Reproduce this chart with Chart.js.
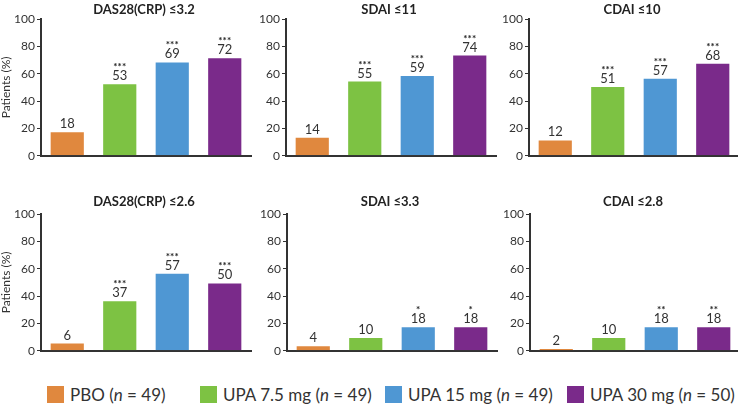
<!DOCTYPE html>
<html>
<head>
<meta charset="utf-8">
<script src="https://cdn.jsdelivr.net/npm/chart.js@4.4.1/dist/chart.umd.min.js"></script>
<style>
  body { margin: 0; width: 738px; height: 406px; overflow: hidden; background: #fff; position: relative; font-family: Lato, sans-serif; }
  canvas { position: absolute; }
  .leg { position: absolute; top: 385px; height: 18px; display: flex; align-items: center; font-size: 17px; color: #333; white-space: nowrap; }
  .leg span.box { display: inline-block; width: 17px; height: 17px; margin-right: 6px; }
</style>
</head>
<body>
<script>
// groups (legend) and colours
const groupNames = ['PBO', 'UPA 7.5 mg', 'UPA 15 mg', 'UPA 30 mg'];
const groupN = [49, 49, 49, 50];
const groupColors = ['#E0883E', '#7DC243', '#4F97D3', '#7A2A8A'];

// panel titles
const titles = ['DAS28(CRP) \u22643.2', 'SDAI \u226411', 'CDAI \u226410',
                'DAS28(CRP) \u22642.6', 'SDAI \u22643.3', 'CDAI \u22642.8'];

// patients (%) per group
const das28_32 = [18, 53, 69, 72];
const sdai_11  = [14, 55, 59, 74];
const cdai_10  = [12, 51, 57, 68];
const das28_26 = [6, 37, 57, 50];
const sdai_33  = [4, 10, 18, 18];
const cdai_28  = [2, 10, 18, 18];
const values = [das28_32, sdai_11, cdai_10, das28_26, sdai_33, cdai_28];

// significance marks
const starsTop = [['', '***', '***', '***'], ['', '***', '***', '***'], ['', '***', '***', '***']];
const starsBottom = [['', '***', '***', '***'], ['', '', '*', '*'], ['', '', '**', '**']];
const stars = starsTop.concat(starsBottom);

const yTicks = [0, 20, 40, 60, 80, 100];

// layout of the six panels
const panels = [
  { ax: 41,  top: 0,   padTop: 19, h: 165, titleY: 10, yTitle: true },
  { ax: 286, top: 0,   padTop: 19, h: 165, titleY: 10 },
  { ax: 529, top: 0,   padTop: 19, h: 165, titleY: 10 },
  { ax: 41,  top: 190, padTop: 24, h: 170, titleY: 12, yTitle: true },
  { ax: 287, top: 190, padTop: 24, h: 170, titleY: 12 },
  { ax: 530, top: 190, padTop: 24, h: 170, titleY: 12 }
];

const FONT = 'Lato, sans-serif';

const panelDecor = {
  id: 'panelDecor',
  afterDatasetsDraw(chart, args, opts) {
    const ctx = chart.ctx;
    const area = chart.chartArea;
    ctx.save();
    ctx.fillStyle = '#222';
    ctx.font = 'bold 13px ' + FONT;
    ctx.textAlign = 'center';
    ctx.textBaseline = 'middle';
    ctx.fillText(opts.title, (area.left + area.right) / 2 - 2, opts.titleY);

    const meta = chart.getDatasetMeta(0);
    meta.data.forEach((bar, i) => {
      ctx.fillStyle = '#333';
      ctx.textBaseline = 'alphabetic';
      ctx.font = '13px ' + FONT;
      ctx.fillText(String(chart.data.datasets[0].data[i]), bar.x, bar.y - 3);
      if (opts.stars[i]) {
        ctx.fillStyle = '#222';
        ctx.font = 'bold 10px ' + FONT;
        ctx.fillText(opts.stars[i], bar.x, bar.y - 13);
      }
    });
    ctx.restore();
  }
};

panels.forEach((p, k) => {
  const yw = p.yTitle ? p.ax : 36;
  const cv = document.createElement('canvas');
  cv.width = yw + 211;
  cv.height = p.h;
  cv.style.left = (p.ax - yw) + 'px';
  cv.style.top = p.top + 'px';
  document.body.appendChild(cv);

  new Chart(cv, {
    type: 'bar',
    data: {
      labels: groupNames,
      datasets: [{
        data: values[k],
        backgroundColor: groupColors,
        borderColor: 'rgba(255,255,255,0.35)',
        borderWidth: 1,
        barPercentage: 0.67,
        categoryPercentage: 1
      }]
    },
    options: {
      responsive: false,
      animation: false,
      layout: { padding: { top: p.padTop, right: 1, left: 0, bottom: 0 } },
      plugins: {
        legend: { display: false },
        tooltip: { enabled: false },
        panelDecor: { title: titles[k], titleY: p.titleY, stars: stars[k] }
      },
      scales: {
        x: {
          grid: { display: false },
          ticks: { display: false },
          border: { display: true, color: '#333', width: 2 },
          afterFit: s => { s.height = 8; }
        },
        y: {
          min: 0, max: 100,
          afterBuildTicks: s => { s.ticks = yTicks.map(v => ({ value: v })); },
          ticks: { color: '#333', font: { family: FONT, size: 12 }, padding: 2 },
          grid: { display: true, drawOnChartArea: false, drawTicks: true, tickLength: 4, color: '#333', lineWidth: 1 },
          border: { display: true, color: '#333', width: 2 },
          title: {
            display: !!p.yTitle, text: 'Patients (%)', color: '#333',
            font: { family: FONT, size: 12, lineHeight: 1 }, padding: 0
          },
          afterFit: s => { s.width = yw; }
        }
      }
    },
    plugins: [panelDecor]
  });
});

// legend
const legendLeft = [47, 200, 385, 567];
groupNames.forEach((g, i) => {
  const d = document.createElement('div');
  d.className = 'leg';
  d.style.left = legendLeft[i] + 'px';
  d.innerHTML = '<span class="box" style="background:' + groupColors[i] + '"></span>' +
    g + '&nbsp;(<i>n</i>&nbsp;=&nbsp;' + groupN[i] + ')';
  document.body.appendChild(d);
});
</script>
</body>
</html>
